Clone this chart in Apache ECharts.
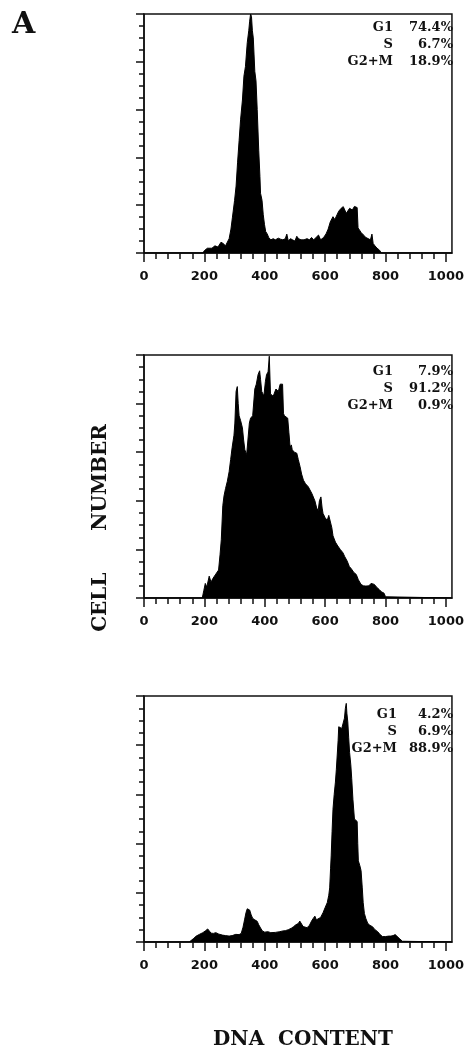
<!DOCTYPE html>
<html>
<head>
<meta charset="utf-8">
<script src="https://cdn.jsdelivr.net/npm/echarts@6/dist/echarts.min.js"></script>
<style>
  html, body { margin: 0; padding: 0; background: #ffffff; }
  #chart { width: 467px; height: 1048px; }
</style>
</head>
<body>
<div id="chart"></div>
<script>
// DNA content axis (channel numbers) and its tick marks
const dnaMax = 1020;
const xMinorTicks = [0, 40, 80, 120, 160, 200, 240, 280, 320, 360, 400, 440, 480, 520, 560, 600, 640, 680, 720, 760, 800, 840, 880, 920, 960, 1000];
const xLabels = [0, 200, 400, 600, 800, 1000];

// Cell-cycle phase fractions shown in each panel
const phaseNames = ['G1', 'S', 'G2+M'];
const phasesTop = ['74.4%', '6.7%', '18.9%'];
const phasesMiddle = ['7.9%', '91.2%', '0.9%'];
const phasesBottom = ['4.2%', '6.9%', '88.9%'];

// Histograms: [DNA content, relative cell number]
const histTop = [
  [0, 0], [195, 0], [200, 1], [210, 2], [216, 2.5], [225, 2], [235, 3], [245, 2.5], [255, 4.5], [262, 4], [270, 3],
  [282, 6], [288, 10], [293, 15], [300, 22], [305, 28], [310, 38], [315, 47], [320, 56], [326, 64], [331, 74],
  [336, 78], [342, 88], [347, 93], [350, 97], [353, 100], [356, 99], [359, 93], [362, 90], [367, 76], [371, 72],
  [375, 60], [380, 43], [384, 32], [386, 25], [391, 22], [395, 16], [399, 12], [403, 9], [408, 8], [413, 6.5],
  [420, 5.5], [428, 6], [435, 5.5], [445, 6.2], [452, 5.8], [460, 5.5], [468, 6], [473, 7.9], [478, 5], [485, 6],
  [492, 5.5], [500, 5], [506, 7], [512, 6], [520, 5.5], [530, 5.5], [540, 6], [548, 5.5], [555, 6.5], [562, 5.5],
  [570, 6.5], [578, 7.5], [585, 5.5], [595, 6.5], [603, 8], [610, 10], [617, 13], [626, 15.2], [632, 14],
  [637, 14.5], [645, 17.5], [653, 18.7], [660, 19.4], [664, 19], [670, 16.6], [675, 17], [681, 18.7],
  [690, 18], [697, 19.5], [703, 19.8], [706, 19], [709, 10.5], [714, 10], [719, 8.6], [727, 7.5], [735, 6.5],
  [741, 5.8], [750, 5.5], [755, 7.9], [759, 4], [765, 3], [772, 2], [780, 1.2], [786, 0], [1020, 0]
];

const histMiddle = [
  [0, 0], [193, 0], [198, 3], [203, 6], [208, 4.5], [216, 9], [222, 6.5], [228, 8], [236, 9.5], [242, 10],
  [247, 11.5], [252, 18], [256, 24], [261, 38], [265, 42], [270, 45], [276, 48], [282, 52], [287, 57], [292, 62],
  [298, 67], [301, 72], [305, 85], [309, 87], [312, 80], [315, 75], [320, 73], [326, 70], [330, 65], [334, 61],
  [340, 59], [345, 59], [349, 72], [353, 74], [360, 75], [367, 86], [372, 88], [378, 92], [383, 93.5], [386, 90],
  [390, 85], [394, 84], [397, 83], [402, 89], [406, 92], [411, 93], [415, 99.5], [419, 84], [424, 84], [428, 83],
  [433, 83], [437, 86], [440, 86], [445, 85], [451, 88], [455, 88], [459, 88], [462, 76], [465, 75], [470, 75],
  [476, 74], [480, 68], [484, 62], [488, 63], [491, 61], [498, 60], [506, 59.6], [511, 57], [517, 54], [522, 51],
  [528, 48.5], [535, 47], [544, 45.8], [550, 45], [556, 43], [560, 43], [566, 40], [572, 37], [577, 36], [581, 40],
  [586, 41.6], [590, 37], [593, 34.8], [600, 33], [607, 32], [612, 34], [618, 33.5], [622, 29], [626, 25.6],
  [634, 23], [642, 21.4], [650, 20], [659, 18.6], [665, 17], [673, 15.2], [680, 13], [688, 11.8], [695, 10.5],
  [703, 9.7], [710, 7.5], [719, 5.6], [727, 5], [735, 4.9], [745, 5], [752, 6], [758, 5.6], [763, 5.6], [770, 4.5],
  [779, 3.5], [787, 2.5], [795, 2], [800, 0.5], [803, 0], [1020, 0]
];

const histBottom = [
  [0, 0], [150, 0], [156, 0.5], [165, 1.5], [173, 2.4], [185, 3.2], [195, 3.8], [203, 4.5], [211, 5.3], [216, 4.5],
  [222, 3.6], [230, 3.5], [238, 3.8], [248, 3.2], [260, 2.8], [270, 2.6], [282, 2.4], [292, 2.6], [304, 3.1],
  [315, 3], [322, 3.5], [328, 6], [333, 9], [338, 12], [342, 13.5], [347, 13.8], [350, 13], [355, 11], [360, 9.6],
  [367, 9], [375, 8.4], [380, 7], [386, 5.7], [392, 4.5], [400, 4], [410, 4.2], [420, 3.8], [435, 3.9], [450, 4.2],
  [460, 4.5], [468, 4.6], [478, 5], [488, 5.6], [495, 6.2], [503, 7], [511, 7.5], [516, 8.5], [520, 7.8],
  [527, 6.3], [533, 5.7], [540, 5.8], [548, 6.8], [555, 8.5], [560, 9.5], [566, 10.5], [571, 9], [577, 8.4],
  [585, 10], [593, 11.9], [600, 14], [607, 16], [612, 19], [615, 22], [618, 30], [620, 35], [623, 45], [626, 54],
  [630, 60], [634, 65], [637, 70], [640, 76], [643, 82], [645, 87.5], [650, 87.5], [655, 86.8], [659, 87],
  [664, 91], [667, 95], [670, 97], [672, 93], [675, 89.5], [678, 83], [681, 77], [685, 72], [688, 66.5],
  [692, 58], [697, 50], [702, 49.5], [706, 49], [708, 40], [710, 33], [715, 31], [719, 29], [723, 22], [726, 16],
  [730, 11.6], [735, 9.5], [741, 7.6], [748, 6.8], [757, 6.2], [765, 5], [774, 4.2], [782, 3], [790, 2.2],
  [800, 2.2], [810, 2.4], [818, 2.4], [825, 2.6], [832, 3], [838, 2.5], [845, 1.5], [850, 0.8], [856, 0.3],
  [861, 0], [1020, 0]
];

const ink = '#111111';
const panels = [
  { data: histTop, phases: phasesTop, grid: { left: 144, top: 14, width: 311, height: 239 }, rows: [28, 45, 62], nameX: 393 },
  { data: histMiddle, phases: phasesMiddle, grid: { left: 144, top: 355, width: 311, height: 243 }, rows: [372, 389, 406], nameX: 393 },
  { data: histBottom, phases: phasesBottom, grid: { left: 144, top: 696, width: 312, height: 246 }, rows: [715, 732, 749], nameX: 397 }
];

const grids = [], xAxes = [], yAxes = [], series = [], graphics = [];
const thin = { color: ink, width: 1.5 };
const phaseFont = 'bold 13px "DejaVu Serif"';

panels.forEach((p, i) => {
  grids.push(Object.assign({
    show: true, borderColor: ink, borderWidth: 1.5, backgroundColor: 'transparent'
  }, p.grid));

  // main x axis: small ticks every 40, labels every 200
  xAxes.push({
    gridIndex: i, type: 'value', min: 0, max: dnaMax, position: 'bottom',
    axisLine: { show: true, lineStyle: thin },
    axisTick: { show: true, inside: false, length: 6, customValues: xMinorTicks, lineStyle: thin },
    axisLabel: {
      show: true, customValues: xLabels, margin: 17,
      formatter: (v) => String(v),
      fontFamily: 'DejaVu Sans', fontWeight: 'bold', fontSize: 13, color: ink
    },
    splitLine: { show: false }
  });
  // overlay axis for the longer ticks at each labelled value
  xAxes.push({
    gridIndex: i, type: 'value', min: 0, max: dnaMax, position: 'bottom', offset: 0,
    axisLine: { show: false },
    axisTick: { show: true, inside: false, length: 9, customValues: xLabels, lineStyle: thin },
    axisLabel: { show: false },
    splitLine: { show: false }
  });

  yAxes.push({
    gridIndex: i, type: 'value', min: 0, max: 100, interval: 20,
    axisLine: { show: true, lineStyle: thin },
    axisTick: { show: true, inside: false, length: 8, lineStyle: thin },
    minorTick: { show: true, splitNumber: 4, length: 5, lineStyle: thin },
    axisLabel: { show: false },
    splitLine: { show: false },
    minorSplitLine: { show: false }
  });

  series.push({
    type: 'line', xAxisIndex: i * 2, yAxisIndex: i,
    data: p.data, symbol: 'none', smooth: false,
    lineStyle: { color: '#000', width: 1 },
    areaStyle: { color: '#000', opacity: 1 }
  });

  phaseNames.forEach((name, k) => {
    graphics.push({
      type: 'text', x: p.nameX, y: p.rows[k],
      style: { text: name, font: phaseFont, fill: ink, align: 'right', textAlign: 'right', verticalAlign: 'middle', textVerticalAlign: 'middle' }
    });
    graphics.push({
      type: 'text', x: 453, y: p.rows[k],
      style: { text: p.phases[k], font: phaseFont, fill: ink, align: 'right', textAlign: 'right', verticalAlign: 'middle', textVerticalAlign: 'middle' }
    });
  });
});

graphics.push({
  type: 'text', x: 12, y: 25,
  style: { text: 'A', font: 'bold 30px "DejaVu Serif"', fill: ink, align: 'left', textAlign: 'left', verticalAlign: 'middle', textVerticalAlign: 'middle' }
});
graphics.push({
  type: 'text', x: 101, y: 528, rotation: Math.PI / 2,
  style: { text: 'CELL      NUMBER', font: 'bold 20px "DejaVu Serif"', fill: ink, align: 'center', textAlign: 'center', verticalAlign: 'middle', textVerticalAlign: 'middle' }
});
graphics.push({
  type: 'text', x: 303, y: 1040,
  style: { text: 'DNA  CONTENT', font: 'bold 20px "DejaVu Serif"', fill: ink, align: 'center', textAlign: 'center', verticalAlign: 'middle', textVerticalAlign: 'middle' }
});

const chart = echarts.init(document.getElementById('chart'), null, { renderer: 'canvas' });
chart.setOption({
  backgroundColor: '#ffffff',
  animation: false,
  grid: grids,
  xAxis: xAxes,
  yAxis: yAxes,
  series: series,
  graphic: graphics
});
</script>
</body>
</html>
